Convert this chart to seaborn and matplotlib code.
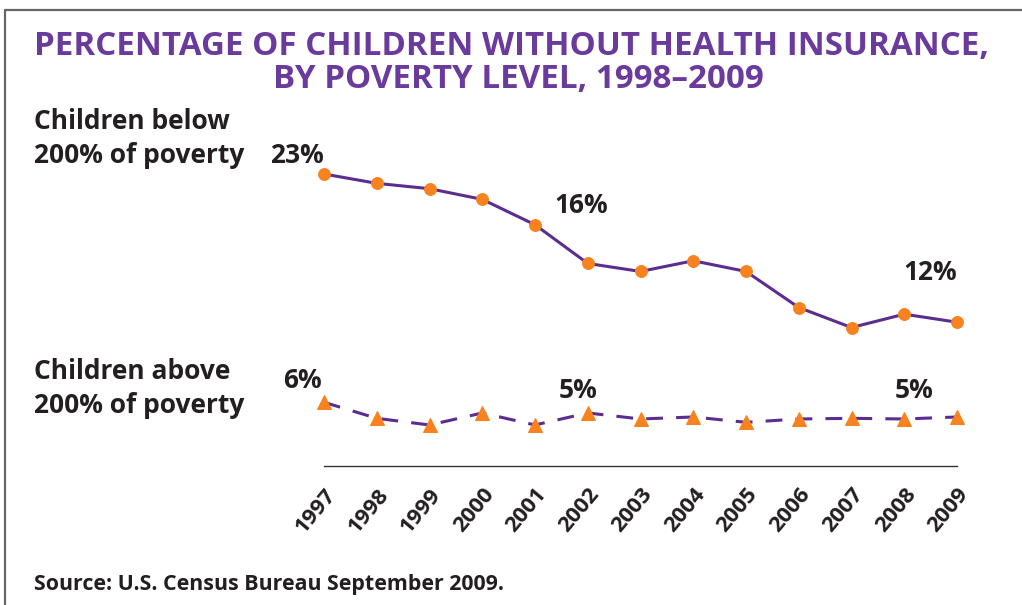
import matplotlib
matplotlib.use("Agg")
import matplotlib.pyplot as plt
from matplotlib.lines import Line2D
import seaborn as sns
import pandas as pd

# ---- data ----
years = [1997, 1998, 1999, 2000, 2001, 2002, 2003, 2004, 2005, 2006, 2007, 2008, 2009]
below_200 = [23.0, 22.3, 21.9, 21.1, 19.2, 16.3, 15.7, 16.5, 15.7, 13.0, 11.5, 12.5, 11.9]
above_200 = [5.9, 4.7, 4.2, 5.1, 4.2, 5.1, 4.65, 4.8, 4.4, 4.65, 4.7, 4.65, 4.8]
tick_labels = [str(y) for y in years]
title_lines = ["PERCENTAGE OF CHILDREN WITHOUT HEALTH INSURANCE,",
               "BY POVERTY LEVEL, 1998\u20132009"]
series_names = ["Children below\n200% of poverty", "Children above\n200% of poverty"]
below_labels = {1997: "23%", 2001: "16%", 2008: "12%"}
above_labels = {1997: "6%", 2002: "5%", 2008: "5%"}
source_text = "Source: U.S. Census Bureau September 2009."

sns.set_style("white")
plt.rcParams["font.family"] = ["Open Sans", "DejaVu Sans"]

W, H = 1022, 605
fig = plt.figure(figsize=(W / 100, H / 100), dpi=100)

def fx(px):
    return px / W

def fy(py):
    return 1 - py / H

ax_left, ax_right, ax_top, ax_bot = 324, 957, 147.3, 466
ax = fig.add_axes([fx(ax_left), fy(ax_bot), (ax_right - ax_left) / W, (ax_bot - ax_top) / H])

PURPLE = "#5b2d90"
ORANGE = "#f7821e"
TEXT = "#231f20"
TITLE = "#6a3a9c"

df = pd.DataFrame({"year": years, "below": below_200, "above": above_200})

sns.lineplot(data=df, x="year", y="below", ax=ax, color=PURPLE, lw=2.2,
             marker="o", markersize=8.5, markerfacecolor=ORANGE,
             markeredgecolor=ORANGE, clip_on=False)
sns.lineplot(data=df, x="year", y="above", ax=ax, color=PURPLE, lw=2.2,
             marker="^", markersize=10, markerfacecolor=ORANGE,
             markeredgecolor=ORANGE, clip_on=False)
ax.lines[-1].set_dashes((5.5, 4.3))

ax.set_xlim(1997, 2009)
ax.set_ylim(1.128, 25)
ax.set_xticks(years)
ax.set_xticklabels(tick_labels, rotation=50, ha="right", va="top",
                   rotation_mode="anchor", fontsize=16, fontweight="bold",
                   color=TEXT)
ax.set_yticks([])
ax.set_xlabel("")
ax.set_ylabel("")
for s in ["left", "right", "top"]:
    ax.spines[s].set_visible(False)
ax.spines["bottom"].set_color("#333333")
ax.spines["bottom"].set_linewidth(1.0)
ax.tick_params(axis="x", direction="out", length=7.2, width=1.0,
               color="#333333", pad=6)
ax.patch.set_alpha(0)

# data labels
below_off = {1997: (-27, 11), 2001: (46, 12), 2008: (26, 34)}
above_off = {1997: (-22, 14), 2002: (-10, 15), 2008: (10, 21)}
for yr, lab in below_labels.items():
    ax.annotate(lab, xy=(yr, below_200[years.index(yr)]), xytext=below_off[yr],
                textcoords="offset pixels", ha="center", va="baseline",
                fontsize=19, fontweight="bold", color=TEXT)
for yr, lab in above_labels.items():
    ax.annotate(lab, xy=(yr, above_200[years.index(yr)]), xytext=above_off[yr],
                textcoords="offset pixels", ha="center", va="baseline",
                fontsize=19, fontweight="bold", color=TEXT)

# title (fit to the reference widths)
renderer = fig.canvas.get_renderer()
t1 = fig.text(fx(512), fy(55), title_lines[0], ha="center", va="baseline",
              fontsize=22, fontweight="bold", color=TITLE)
t2 = fig.text(fx(518), fy(88), title_lines[1], ha="center", va="baseline",
              fontsize=22, fontweight="bold", color=TITLE)
w1 = t1.get_window_extent(renderer).width
size = 22 * 955 / w1
t1.set_fontsize(size)
t2.set_fontsize(size)

# series names
fig.text(fx(34), fy(163), series_names[0], ha="left", va="baseline",
         fontsize=19, fontweight="bold", color=TEXT, linespacing=1.35)
fig.text(fx(34), fy(413), series_names[1], ha="left", va="baseline",
         fontsize=19, fontweight="bold", color=TEXT, linespacing=1.35)

# source
fig.text(fx(34), fy(590), source_text, ha="left", va="baseline",
         fontsize=15.4, fontweight="bold", color=TEXT)

# frame
fig.add_artist(Line2D([fx(5), fx(1022)], [fy(10), fy(10)], color="#666666", lw=1.6))
fig.add_artist(Line2D([fx(5), fx(5)], [fy(10), fy(605)], color="#666666", lw=1.6))

fig.savefig("out.png", dpi=100)
